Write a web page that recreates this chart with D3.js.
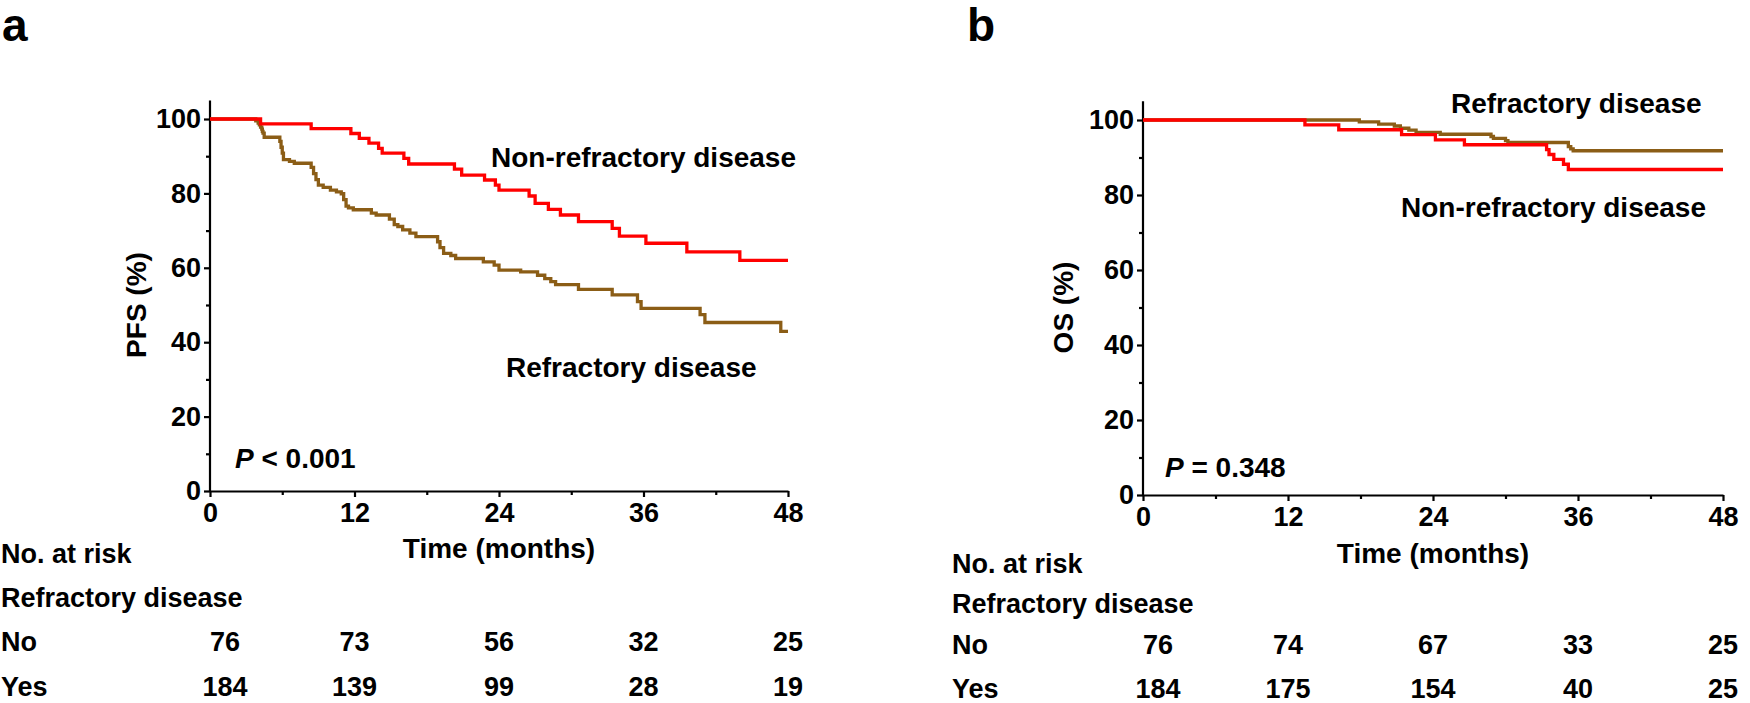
<!DOCTYPE html>
<html>
<head>
<meta charset="utf-8">
<script src="https://cdn.jsdelivr.net/npm/d3@7"></script>
<style>
  body { margin: 0; background: #fff; }
  svg { display: block; font-family: "Liberation Sans", Arial, sans-serif; font-weight: bold; }
</style>
</head>
<body>
<svg id="chart" width="1750" height="703"></svg>
<script>
const xTicks = [0, 12, 24, 36, 48]
const xMinorTicks = [6, 18, 30, 42]
const yTicks = [0, 20, 40, 60, 80, 100]
const yMinorTicks = [10, 30, 50, 70, 90]
const riskTimes = [0, 12, 24, 36, 48]
const riskGroups = ['No', 'Yes']

// [months, survival %] - step points
const pfsNonRefractory = [[0, 100], [4.2, 98.7], [8.4, 97.4], [11.7, 96.1], [12.4, 94.8], [13.2, 93.5], [14.0, 92.1], [14.3, 90.8], [16.1, 89.4], [16.5, 87.9], [20.3, 86.5], [20.9, 84.9], [22.8, 83.6], [23.7, 82.2], [24.0, 80.9], [26.5, 79.3], [27.0, 77.3], [28.1, 75.7], [29.1, 74.2], [30.6, 72.4], [33.4, 70.6], [34.0, 68.5], [36.2, 66.6], [39.6, 64.3], [44.0, 62.0], [48, 62.0]]
const pfsRefractory = [[0, 100], [3.8, 99.5], [4.0, 98.9], [4.1, 98.4], [4.2, 97.8], [4.3, 97.3], [4.35, 96.7], [4.4, 96.2], [4.5, 95.1], [5.8, 94.0], [5.9, 92.4], [6.0, 90.8], [6.1, 89.1], [6.6, 88.6], [7.0, 88.1], [8.4, 87.0], [8.6, 85.3], [8.8, 83.7], [9.0, 82.2], [9.4, 81.6], [10.0, 80.9], [10.5, 80.4], [10.9, 79.9], [11.1, 78.3], [11.3, 76.6], [11.5, 76.1], [11.9, 75.6], [13.4, 74.7], [13.8, 74.2], [14.9, 73.1], [15.3, 71.6], [15.6, 71.1], [16.0, 70.2], [16.6, 69.3], [17.1, 68.4], [18.9, 67.0], [19.1, 65.4], [19.4, 63.9], [20.0, 63.3], [20.4, 62.5], [22.7, 61.6], [23.6, 60.7], [24.0, 59.4], [25.8, 58.9], [27.2, 58.0], [27.8, 57.1], [28.3, 56.3], [28.7, 55.5], [30.6, 54.2], [33.4, 52.7], [35.5, 50.9], [35.8, 49.1], [40.7, 47.4], [41.1, 45.3], [47.4, 42.9], [48, 42.9]]
const osNonRefractory = [[0, 100], [13.4, 98.7], [16.2, 97.4], [21.4, 96.1], [24.2, 94.7], [26.6, 93.4], [33.4, 92.1], [33.6, 90.8], [34.0, 89.5], [34.8, 88.2], [35.2, 86.8], [48, 86.8]]
const osRefractory = [[0, 100], [17.9, 99.5], [19.5, 98.9], [20.8, 98.4], [21.3, 97.8], [22.0, 97.3], [22.6, 96.7], [24.6, 96.2], [28.8, 95.6], [29.0, 95.1], [30.0, 94.5], [30.2, 94.0], [35.2, 92.9], [35.4, 92.3], [35.6, 91.8], [48, 91.8]]

const pfsRiskNo = [76, 73, 56, 32, 25]
const pfsRiskYes = [184, 139, 99, 28, 19]
const osRiskNo = [76, 74, 67, 33, 25]
const osRiskYes = [184, 175, 154, 40, 25]

const RED = '#ff0000'
const BROWN = '#8b5d16'

const svg = d3.select('#chart')

/**
 * Draws one Kaplan-Meier panel with its risk table.
 */
function drawPanel (p) {
  const x = d3.scaleLinear().domain([0, 48]).range([p.left, p.right])
  const y = d3.scaleLinear().domain([0, 100]).range([p.bottom, p.top100])
  const g = svg.append('g')

  // axes
  const yAxis = g.append('g').attr('transform', `translate(${p.left},0)`)
    .call(d3.axisLeft(y).tickValues(yTicks).tickSize(6).tickSizeOuter(0).tickPadding(3))
  g.append('g').attr('transform', `translate(${p.left},0)`)
    .call(d3.axisLeft(y).tickValues(yMinorTicks).tickSize(4).tickFormat(''))
    .select('.domain').remove()
  // y axis runs a little above 100
  yAxis.select('.domain').attr('d', `M0,${p.bottom}V${y(105)}`)

  g.append('g').attr('transform', `translate(0,${p.bottom})`)
    .call(d3.axisBottom(x).tickValues(xTicks).tickSize(6).tickSizeOuter(0).tickPadding(6))
  g.append('g').attr('transform', `translate(0,${p.bottom})`)
    .call(d3.axisBottom(x).tickValues(xMinorTicks).tickSize(4).tickFormat(''))
    .select('.domain').remove()

  g.selectAll('.domain, .tick line').attr('stroke', '#000').attr('stroke-width', 2.2)
  g.selectAll('.tick text')
    .attr('fill', '#000')
    .style('font-size', '27px')
    .style('font-family', '"Liberation Sans", Arial, sans-serif')
    .style('font-weight', 'bold')

  // curves
  const line = d3.line()
    .x(d => x(d[0]))
    .y(d => y(d[1]))
    .curve(d3.curveStepAfter)
  p.series.forEach(s => {
    g.append('path')
      .datum(s.data)
      .attr('fill', 'none')
      .attr('stroke', s.color)
      .attr('stroke-width', 3.3)
      .attr('d', line)
  })

  // titles
  g.append('text')
    .attr('transform', `translate(${p.yTitleX},${y(50)}) rotate(-90)`)
    .attr('text-anchor', 'middle')
    .attr('dy', '0.35em')
    .style('font-size', '28px')
    .text(p.yTitle)
  g.append('text')
    .attr('x', (p.left + p.right) / 2)
    .attr('y', p.xTitleY)
    .attr('text-anchor', 'middle')
    .style('font-size', '28px')
    .text('Time (months)')

  g.append('text')
    .attr('x', p.letterX)
    .attr('y', 41)
    .style('font-size', '46px')
    .text(p.letter)

  // curve labels
  p.curveLabels.forEach(l => {
    g.append('text')
      .attr('x', l.x)
      .attr('y', l.y)
      .style('font-size', '28px')
      .text(l.text)
  })

  // p value
  const pv = g.append('text')
    .attr('x', p.pX)
    .attr('y', p.pY)
    .style('font-size', '28px')
  pv.append('tspan').style('font-style', 'italic').text('P')
  pv.append('tspan').text(p.pText)

  // risk table
  const t = p.table
  g.append('text').attr('x', t.labelX).attr('y', t.rows[0])
    .style('font-size', '27px').text('No. at risk')
  g.append('text').attr('x', t.labelX).attr('y', t.rows[1])
    .style('font-size', '27px').text('Refractory disease')
  ;[t.no, t.yes].forEach((vals, i) => {
    const rowY = t.rows[i + 2]
    g.append('text').attr('x', t.labelX).attr('y', rowY)
      .style('font-size', '27px').text(riskGroups[i])
    g.selectAll(null)
      .data(vals)
      .enter()
      .append('text')
      .attr('x', (d, j) => x(riskTimes[j]) + (riskTimes[j] === 0 ? 15 : 0))
      .attr('y', rowY)
      .attr('text-anchor', 'middle')
      .style('font-size', '27px')
      .text(d => d)
  })
}

drawPanel({
  letter: 'a',
  letterX: 2,
  left: 210,
  right: 788,
  bottom: 491,
  top100: 119,
  yTitle: 'PFS (%)',
  yTitleX: 136,
  xTitleY: 558,
  series: [
    { data: pfsRefractory, color: BROWN },
    { data: pfsNonRefractory, color: RED }
  ],
  curveLabels: [
    { text: 'Non-refractory disease', x: 491, y: 167 },
    { text: 'Refractory disease', x: 506, y: 377 }
  ],
  pX: 235,
  pY: 468,
  pText: ' < 0.001',
  table: { labelX: 1, rows: [563, 607, 651, 696], no: pfsRiskNo, yes: pfsRiskYes }
})

drawPanel({
  letter: 'b',
  letterX: 967,
  left: 1143,
  right: 1723,
  bottom: 495,
  top100: 120,
  yTitle: 'OS (%)',
  yTitleX: 1063,
  xTitleY: 563,
  series: [
    { data: osRefractory, color: BROWN },
    { data: osNonRefractory, color: RED }
  ],
  curveLabels: [
    { text: 'Refractory disease', x: 1451, y: 113 },
    { text: 'Non-refractory disease', x: 1401, y: 217 }
  ],
  pX: 1165,
  pY: 477,
  pText: ' = 0.348',
  table: { labelX: 952, rows: [573, 613, 654, 698], no: osRiskNo, yes: osRiskYes }
})
</script>
</body>
</html>
